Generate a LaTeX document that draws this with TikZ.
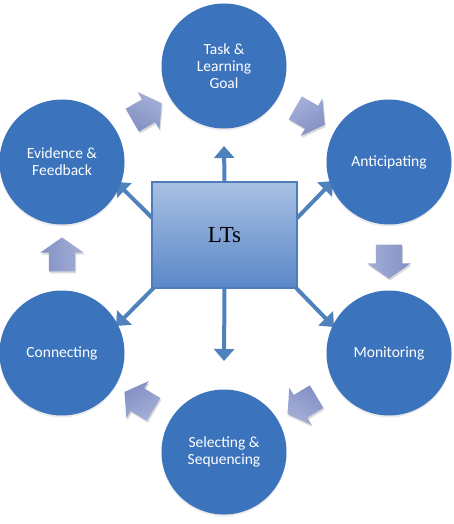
\documentclass[tikz,border=0pt]{standalone}
\usepackage{fontspec}
\setmainfont{Carlito}
\newfontfamily\ltsfont{Liberation Serif}
\usetikzlibrary{shapes.arrows,shadows,arrows.meta}
\pgfdeclarelayer{background}
\pgfsetlayers{background,main}

\definecolor{stagefill}{HTML}{3B73BC}
\definecolor{linkblue}{HTML}{4F81BD}
\definecolor{hubtop}{HTML}{A9C0E3}
\definecolor{hubbottom}{HTML}{5A88C8}
\definecolor{hubedge}{HTML}{4E7DBD}
\definecolor{flowtop}{HTML}{A5B0D8}
\definecolor{flowbottom}{HTML}{8290C3}

\begin{document}
\begin{tikzpicture}[x=1pt,y=-1pt,
  stage/.style={circle, fill=stagefill, minimum size=125pt, inner sep=0pt,
    text=white, align=center, font=\fontsize{15.5}{17}\selectfont,
    drop shadow={opacity=0.15, shadow xshift=0pt, shadow yshift=-2pt}},
  hub/.style={rectangle, draw=hubedge, line width=1.2pt,
    top color=hubtop, bottom color=hubbottom,
    minimum width=145pt, minimum height=106pt,
    font=\ltsfont\fontsize{23}{26}\selectfont},
  link/.style={draw=linkblue, line width=4pt,
    -{Triangle[width=20pt,length=12pt]}},
  flow/.style={single arrow, single arrow head extend=8.5pt,
    single arrow tip angle=110, minimum height=34pt,
    inner xsep=0pt, inner ysep=13pt, draw=none, rotate=#1,
    top color=flowtop, bottom color=flowbottom, shading angle={0-(#1)},
    drop shadow={opacity=0.3, shadow xshift=1pt, shadow yshift=-2pt}}
]
\useasboundingbox (0,0) rectangle (454,524);

% the six stages of the cycle
\node[stage] (task)   at (224,66)  {Task \&\\Learning\\Goal};
\node[stage] (antic)  at (389,162) {Anticipating};
\node[stage] (monit)  at (389,353) {Monitoring};
\node[stage] (selseq) at (224,452) {Selecting \&\\Sequencing};
\node[stage] (conn)   at (62,353)  {Connecting};
\node[stage] (evid)   at (62,162)  {Evidence \&\\Feedback};

% central box
\node[hub] (hub) at (224.5,235) {LTs};

% arrow ends pointing out towards the stages
\coordinate (tipN)  at (224,146);
\coordinate (tipS)  at (224,361);
\coordinate (tipNW) at (116,182);
\coordinate (tipNE) at (333,181);
\coordinate (tipSW) at (116,326);
\coordinate (tipSE) at (334,327);

\begin{pgfonlayer}{background}
  \draw[link] (hub.north) -- (tipN);
  \draw[link] (hub.south) -- (tipS);
  \draw[link] ([xshift=18pt]hub.west) -- (tipNW);
  \draw[link] ([xshift=-17pt]hub.east) -- (tipNE);
  \draw[link] ([xshift=18pt,yshift=-37pt]hub.west) -- (tipSW);
  \draw[link] ([xshift=-17pt,yshift=-37pt]hub.east) -- (tipSE);
\end{pgfonlayer}

% block arrows running round the cycle
\node[flow=-30]  (f1) at (306,114) {};
\node[flow=-90]  (f2) at (389,257) {};
\node[flow=-149] (f3) at (306,403) {};
\node[flow=149]  (f4) at (143,403) {};
\node[flow=90]   (f5) at (62,259)  {};
\node[flow=30]   (f6) at (143,114) {};
\end{tikzpicture}
\end{document}
